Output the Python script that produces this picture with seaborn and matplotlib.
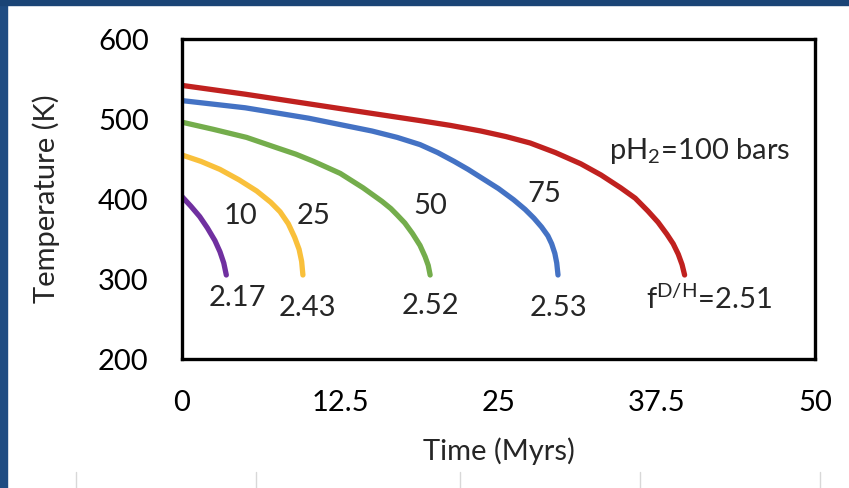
import pandas as pd
import matplotlib
matplotlib.use("Agg")
import matplotlib.pyplot as plt
import seaborn as sns
from matplotlib.patches import Rectangle
from matplotlib.lines import Line2D

# curves: time (Myrs) and temperature (K) per pH2
t_10 = [0, 0.7, 1.4, 2.0, 2.6, 3.0, 3.3, 3.5]
T_10 = [403, 391, 378, 364, 348, 334, 320, 305]

t_25 = [0, 1.5, 3.0, 4.5, 5.9, 7.0, 7.75, 8.4, 8.9, 9.25, 9.45, 9.55]
T_25 = [455, 447, 437, 424, 410, 396, 384, 369, 352, 337, 322, 305]

t_50 = [0, 2.5, 5.1, 7.5, 9.0, 10.4, 12.5, 14.3, 15.8, 16.5, 17.0, 17.6, 18.2, 18.8,
        19.2, 19.45, 19.6]
T_50 = [496, 487, 477, 464, 456, 447, 432, 414, 397, 388, 380, 370, 357, 342,
        328, 317, 305]

t_75 = [0, 5, 10, 15, 17, 18.8, 20.2, 21.5, 22.6, 23.6, 25.0, 26.2, 27.1, 27.8, 28.4,
        28.9, 29.2, 29.45, 29.6, 29.7]
T_75 = [523, 514, 501, 485, 477, 468, 458, 447, 437, 427, 413, 399, 387, 376, 365,
        354, 344, 332, 320, 305]

t_100 = [0, 5, 10, 15, 18.8, 21.2, 23.6, 25.6, 27.5, 29.5, 31.5, 33.1, 34.65, 35.8,
         36.8, 37.6, 38.3, 38.8, 39.2, 39.5, 39.7]
T_100 = [542, 531, 519, 507, 498, 492, 485, 478, 470, 458, 444, 430, 414, 401,
         385, 371, 356, 344, 331, 318, 305]

pressures = ["10", "25", "50", "75", "100"]
fdh = ["2.17", "2.43", "2.52", "2.53", "2.51"]
colors = ["#7030A0", "#F9C03B", "#74AD4C", "#4472C4", "#C0211F"]

df = pd.concat([
    pd.DataFrame({"time": t, "temp": T, "p": p})
    for t, T, p in zip([t_10, t_25, t_50, t_75, t_100],
                       [T_10, T_25, T_50, T_75, T_100], pressures)
])

sns.set_style("white")
plt.rcParams["font.family"] = ["Lato", "DejaVu Sans"]
plt.rcParams["mathtext.fontset"] = "custom"
plt.rcParams["mathtext.rm"] = "Lato"
plt.rcParams["mathtext.it"] = "Lato:italic"
plt.rcParams["mathtext.bf"] = "Lato:bold"

fig = plt.figure(figsize=(8.49, 4.88), dpi=100)
fig.patch.set_facecolor("white")
# slide border (dark blue on left and top)
fig.patches.append(Rectangle((0, 0), 7 / 849, 1, transform=fig.transFigure,
                             color="#1f4c82", zorder=0))
fig.patches.append(Rectangle((0, 1 - 5 / 488), 1, 5 / 488, transform=fig.transFigure,
                             color="#1a4476", zorder=0))
for xp in [76, 256, 460, 640, 820]:
    fig.lines.append(Line2D([xp / 849, xp / 849], [0, 16 / 488], transform=fig.transFigure,
                            color="#d8d8d8", lw=1))

ax = fig.add_axes([182 / 849, 1 - 359 / 488, (815 - 182) / 849, (359 - 39) / 488])

ax = sns.lineplot(data=df, x="time", y="temp", hue="p", palette=colors, sort=False,
                  estimator=None, legend=False, linewidth=3.8, ax=ax)
for line in ax.get_lines():
    line.set_solid_capstyle("round")
    line.set_solid_joinstyle("round")

fs = 21
ax.set_xlim(0, 50)
ax.set_ylim(200, 600)
ax.set_xticks([0, 12.5, 25, 37.5, 50])
ax.set_xticklabels(["0", "12.5", "25", "37.5", "50"])
ax.set_yticks([200, 300, 400, 500, 600])
ax.tick_params(axis="both", direction="in", length=7, width=2, labelsize=fs,
               colors="black")
ax.tick_params(axis="y", pad=24)
ax.tick_params(axis="x", pad=22)
for s in ax.spines.values():
    s.set_linewidth(2.4)
    s.set_color("black")

ax.set_xlabel("Time (Myrs)", fontsize=fs, labelpad=16)
ax.set_ylabel("Temperature (K)", fontsize=fs, labelpad=27)

ax.text(4.6, 379, pressures[0], fontsize=fs, ha="center", va="center")
ax.text(10.4, 379, pressures[1], fontsize=fs, ha="center", va="center")
ax.text(19.6, 391, pressures[2], fontsize=fs, ha="center", va="center")
ax.text(28.6, 406, pressures[3], fontsize=fs, ha="center", va="center")
ax.text(40.9, 460, "pH$_\\mathrm{2}$=" + pressures[4] + " bars", fontsize=fs,
        ha="center", va="center")

ax.text(4.4, 276, fdh[0], fontsize=fs, ha="center", va="center")
ax.text(9.9, 264, fdh[1], fontsize=fs, ha="center", va="center")
ax.text(19.6, 266, fdh[2], fontsize=fs, ha="center", va="center")
ax.text(29.7, 264, fdh[3], fontsize=fs, ha="center", va="center")
ax.text(41.6, 275, "f$^\\mathrm{D/H}$=" + fdh[4], fontsize=fs, ha="center", va="center")

plt.savefig("out.png", dpi=100)
